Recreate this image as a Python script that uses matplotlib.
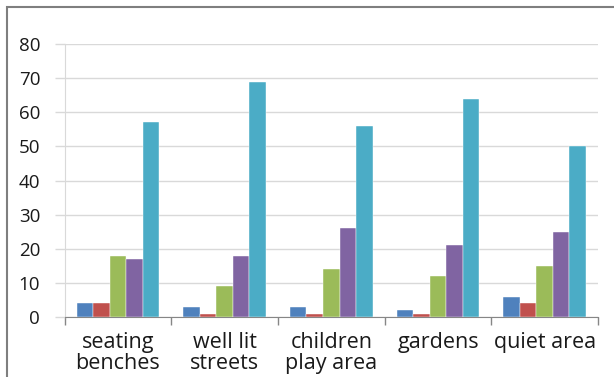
import numpy as np
import matplotlib.pyplot as plt
from matplotlib.patches import Rectangle

# 데이터
categories = ['seating\nbenches', 'well lit\nstreets', 'children\nplay area', 'gardens', 'quiet area']
series_1 = [4, 3, 3, 2, 6]
series_2 = [4, 1, 1, 1, 4]
series_3 = [18, 9, 14, 12, 15]
series_4 = [17, 18, 26, 21, 25]
series_5 = [57, 69, 56, 64, 50]
y_ticks = [0, 10, 20, 30, 40, 50, 60, 70, 80]

colors = ['#4F81BD', '#C0504D', '#9BBB59', '#8064A2', '#4BACC6']

plt.rcParams['font.family'] = ['Open Sans', 'DejaVu Sans']

fig = plt.figure(figsize=(6.14, 3.77), dpi=100)
ax = fig.add_axes([64.5 / 614, 1 - 317 / 377, (598 - 64.5) / 614, (317 - 44) / 377])

# 바깥 테두리
fig.patches.append(Rectangle((7 / 614, -0.1), 1.2, 1 - 7 / 377 + 0.1,
                             transform=fig.transFigure, fill=False,
                             edgecolor='#7F7F7F', linewidth=1.5))

x = np.arange(len(categories))
w = 0.155
all_series = [series_1, series_2, series_3, series_4, series_5]
for i, vals in enumerate(all_series):
    ax.bar(x + (i - 2) * w, vals, width=w, color=colors[i], zorder=3,
           edgecolor='white', linewidth=0.3)

ax.set_xlim(-0.5, len(categories) - 0.5)
ax.set_ylim(0, 80)
ax.set_yticks(y_ticks)
ax.set_yticklabels([str(v) for v in y_ticks], fontsize=13.5, color='#1a1a1a')
ax.yaxis.grid(True, color='#D9D9D9', linewidth=1, zorder=0)

# 카테고리 경계 눈금
ax.set_xticks(np.arange(len(categories) + 1) - 0.5)
ax.set_xticklabels([])
ax.set_xticks(x, minor=True)
ax.set_xticklabels(categories, minor=True, fontsize=15.5, color='#1a1a1a', linespacing=1.05)
ax.tick_params(axis='x', which='major', direction='out', length=6, color='#868686', width=1)
ax.tick_params(axis='x', which='minor', length=0, pad=10.5)
ax.tick_params(axis='y', direction='out', length=7, color='#D9D9D9', width=1, pad=10.5)

for s in ['top', 'right']:
    ax.spines[s].set_visible(False)
ax.spines['left'].set_color('#D9D9D9')
ax.spines['bottom'].set_color('#868686')

plt.savefig('out.png', dpi=100)
